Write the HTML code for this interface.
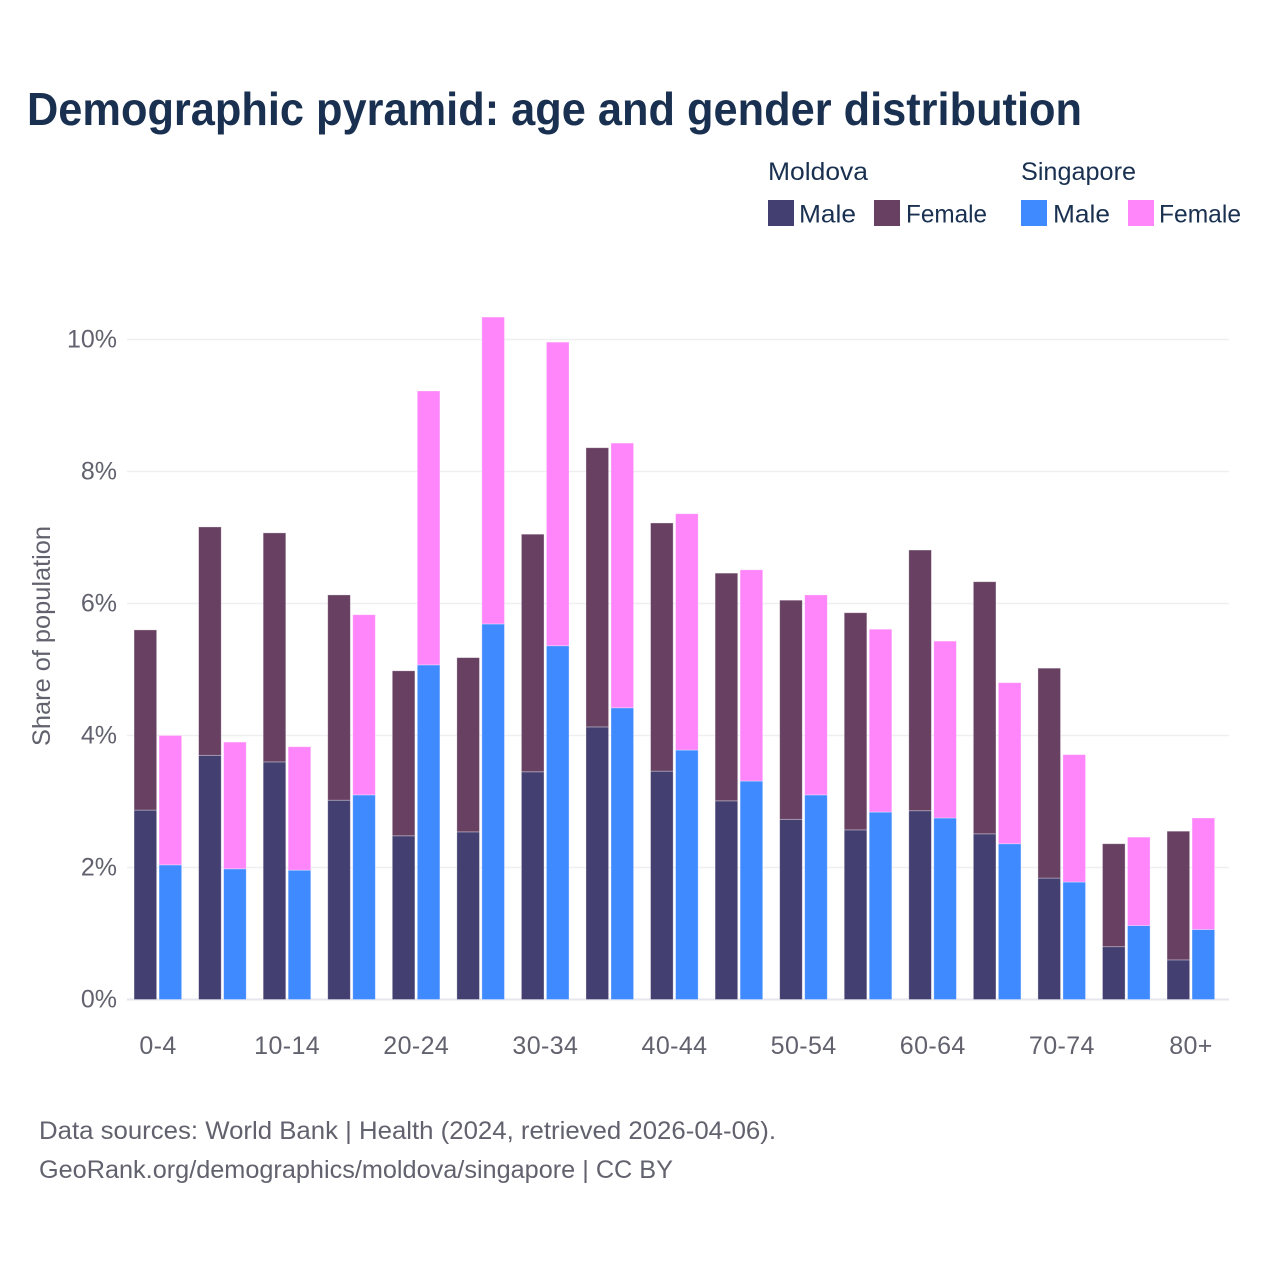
<!DOCTYPE html>
<html lang="en">
<head>
<meta charset="utf-8">
<title>Demographic pyramid: age and gender distribution</title>
<style>
  html, body { margin: 0; padding: 0; background: #ffffff; }
  svg { display: block; font-family: "Liberation Sans", sans-serif; }
</style>
</head>
<body>
<svg id="chart" xmlns="http://www.w3.org/2000/svg" width="1280" height="1280" viewBox="0 0 1280 1280">
  <rect x="0" y="0" width="1280" height="1280" fill="#ffffff"/>
  <text x="27" y="125" font-size="46" font-weight="700" fill="#193050" textLength="1055" lengthAdjust="spacingAndGlyphs">Demographic pyramid: age and gender distribution</text>

  <g font-size="25" fill="#193050">
    <text x="768" y="180" textLength="100" lengthAdjust="spacingAndGlyphs">Moldova</text>
    <text x="1021" y="180" textLength="115" lengthAdjust="spacingAndGlyphs">Singapore</text>
    <g>
      <rect x="768" y="200" width="26" height="26" fill="#433f70"/>
      <text x="799" y="222.5" textLength="57" lengthAdjust="spacingAndGlyphs">Male</text>
    </g>
    <g>
      <rect x="874" y="200" width="26" height="26" fill="#674062"/>
      <text x="906" y="222.5" textLength="81" lengthAdjust="spacingAndGlyphs">Female</text>
    </g>
    <g>
      <rect x="1021" y="200" width="26" height="26" fill="#408aff"/>
      <text x="1053" y="222.5" textLength="57" lengthAdjust="spacingAndGlyphs">Male</text>
    </g>
    <g>
      <rect x="1128" y="200" width="26" height="26" fill="#ff85fa"/>
      <text x="1159" y="222.5" textLength="82" lengthAdjust="spacingAndGlyphs">Female</text>
    </g>
  </g>

  <g id="grid"></g>
  <g id="bars"></g>
  <g id="y-axis" font-size="25" fill="#62626e"></g>
  <g id="x-axis" font-size="25" fill="#62626e"></g>

  <text transform="translate(50 636) rotate(-90)" text-anchor="middle" font-size="25" fill="#62626e" textLength="220" lengthAdjust="spacingAndGlyphs">Share of population</text>

  <g font-size="25" fill="#62626e">
    <text x="39" y="1139" textLength="737" lengthAdjust="spacingAndGlyphs">Data sources: World Bank | Health (2024, retrieved 2026-04-06).</text>
    <text x="39" y="1178" textLength="634" lengthAdjust="spacingAndGlyphs">GeoRank.org/demographics/moldova/singapore | CC BY</text>
  </g>
</svg>

<script>
const categories = ["0-4", "5-9", "10-14", "15-19", "20-24", "25-29", "30-34", "35-39", "40-44", "45-49", "50-54", "55-59", "60-64", "65-69", "70-74", "75-79", "80+"];
const moldovaMale = [2.87, 3.70, 3.60, 3.02, 2.48, 2.54, 3.45, 4.13, 3.46, 3.01, 2.73, 2.57, 2.86, 2.51, 1.84, 0.80, 0.60];
const moldovaFemale = [2.73, 3.46, 3.47, 3.11, 2.50, 2.64, 3.60, 4.23, 3.76, 3.45, 3.32, 3.29, 3.95, 3.82, 3.18, 1.56, 1.95];
const singaporeMale = [2.04, 1.98, 1.96, 3.10, 5.07, 5.69, 5.36, 4.42, 3.78, 3.31, 3.10, 2.84, 2.75, 2.36, 1.78, 1.12, 1.06];
const singaporeFemale = [1.96, 1.92, 1.87, 2.73, 4.15, 4.65, 4.60, 4.01, 3.58, 3.20, 3.03, 2.77, 2.68, 2.44, 1.93, 1.34, 1.69];
const yTicks = [0, 2, 4, 6, 8, 10];

const SVG_NS = "http://www.w3.org/2000/svg";
const plotLeft = 127, plotRight = 1229;
const yBase = 999.5, pxPerUnit = 66;
const firstCenter = 158, lastCenter = 1191;
const barWidth = 22.6, barGap = 1.9;

function yScale(v) { return yBase - v * pxPerUnit; }
function xScale(i) { return firstCenter + i * (lastCenter - firstCenter) / (categories.length - 1); }

function make(tag, attrs, parent) {
  const el = document.createElementNS(SVG_NS, tag);
  for (const k in attrs) el.setAttribute(k, attrs[k]);
  parent.appendChild(el);
  return el;
}

const gridG = document.getElementById("grid");
const barsG = document.getElementById("bars");
const yG = document.getElementById("y-axis");
const xG = document.getElementById("x-axis");

yTicks.forEach(function (t) {
  const line = make("line", { x1: plotLeft, x2: plotRight, y1: yScale(t), y2: yScale(t), stroke: t === 0 ? "#e6e6ee" : "#efeff3", "stroke-width": t === 0 ? 2 : 1.5 }, gridG);
  
  
  const label = make("text", { x: 117, y: yScale(t) + 8, "text-anchor": "end" }, yG);
  
  
  label.textContent = t + "%";
});

function drawSegment(x, bottom, value, color) {
  const top = bottom + value;
  const r = make("rect", { x: x, y: yScale(top), width: barWidth, height: yScale(bottom) - yScale(top), fill: color, stroke: "#ffffff", "stroke-width": 0.8, "stroke-opacity": 0.4 }, barsG);
  
  
}

categories.forEach(function (c, i) {
  const cx = xScale(i);
  const leftX = cx - barGap / 2 - barWidth - 0.4;
  const rightX = cx + barGap / 2 + 0.1;
  drawSegment(leftX, 0, moldovaMale[i], "#433f70");
  drawSegment(leftX, moldovaMale[i], moldovaFemale[i], "#674062");
  drawSegment(rightX, 0, singaporeMale[i], "#408aff");
  drawSegment(rightX, singaporeMale[i], singaporeFemale[i], "#ff85fa");
  if (i % 2 === 0) {
    const label = make("text", { x: cx, y: 1054, "text-anchor": "middle", "letter-spacing": 0.4 }, xG);
    
    
    label.textContent = c;
  }
});
</script>
</body>
</html>
